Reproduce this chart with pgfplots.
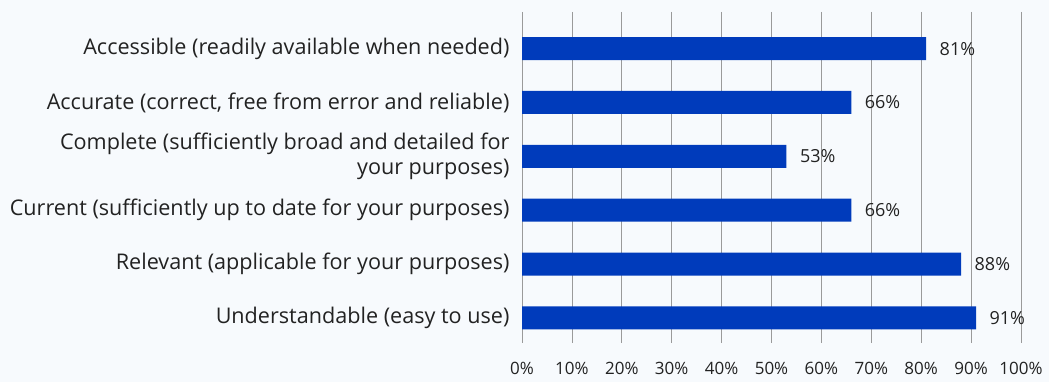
\documentclass[border=0pt]{standalone}
\usepackage{pgfplots}
\pgfplotsset{compat=1.18}
\usepackage{fontspec}
\setmainfont{Open Sans}
\definecolor{bg}{HTML}{F7FAFD}
\definecolor{barc}{HTML}{003BBB}
\definecolor{gridc}{HTML}{9A9A9A}
\definecolor{txt}{HTML}{222222}
\begin{document}
\begin{tikzpicture}[x=1pt,y=1pt]
\fill[bg] (0,0) rectangle (1049,382);
\begin{axis}[
  at={(522pt,39pt)}, anchor=south west,
  scale only axis, width=499pt, height=331pt,
  xbar, bar width=23pt,
  xmin=0, xmax=100, ymin=-0.68, ymax=5.465, y dir=reverse,
  axis line style={draw=none},
  major tick length=0pt,
  /pgf/number format/assume math mode=true,
  xtick={0,10,...,100},
  xticklabel={\pgfmathprintnumber{\tick}\%},
  xticklabel style={text=txt, yshift=-16pt, font=\fontsize{17}{20}\selectfont},
  xmajorgrids, grid style={gridc, line width=0.8pt},
  ytick={0,1,2,3,4,5},
  yticklabels={Accessible (readily available when needed),
    Accurate (correct{,} free from error and reliable),
    {Complete (sufficiently broad and detailed for\\your purposes)},
    Current (sufficiently up to date for your purposes),
    Relevant (applicable for your purposes),
    Understandable (easy to use)},
  yticklabel style={align=right, text=txt, xshift=-9pt, font=\fontsize{21.6}{25}\selectfont},
  nodes near coords={\pgfmathprintnumber{\pgfplotspointmeta}\%},
  nodes near coords style={anchor=west, text=txt, xshift=10pt, font=\fontsize{18}{20}\selectfont},
]
\addplot[fill=barc, draw=none] coordinates {(81,0) (66,1) (53,2) (66,3) (88,4) (91,5)};
\end{axis}
\end{tikzpicture}
\end{document}
